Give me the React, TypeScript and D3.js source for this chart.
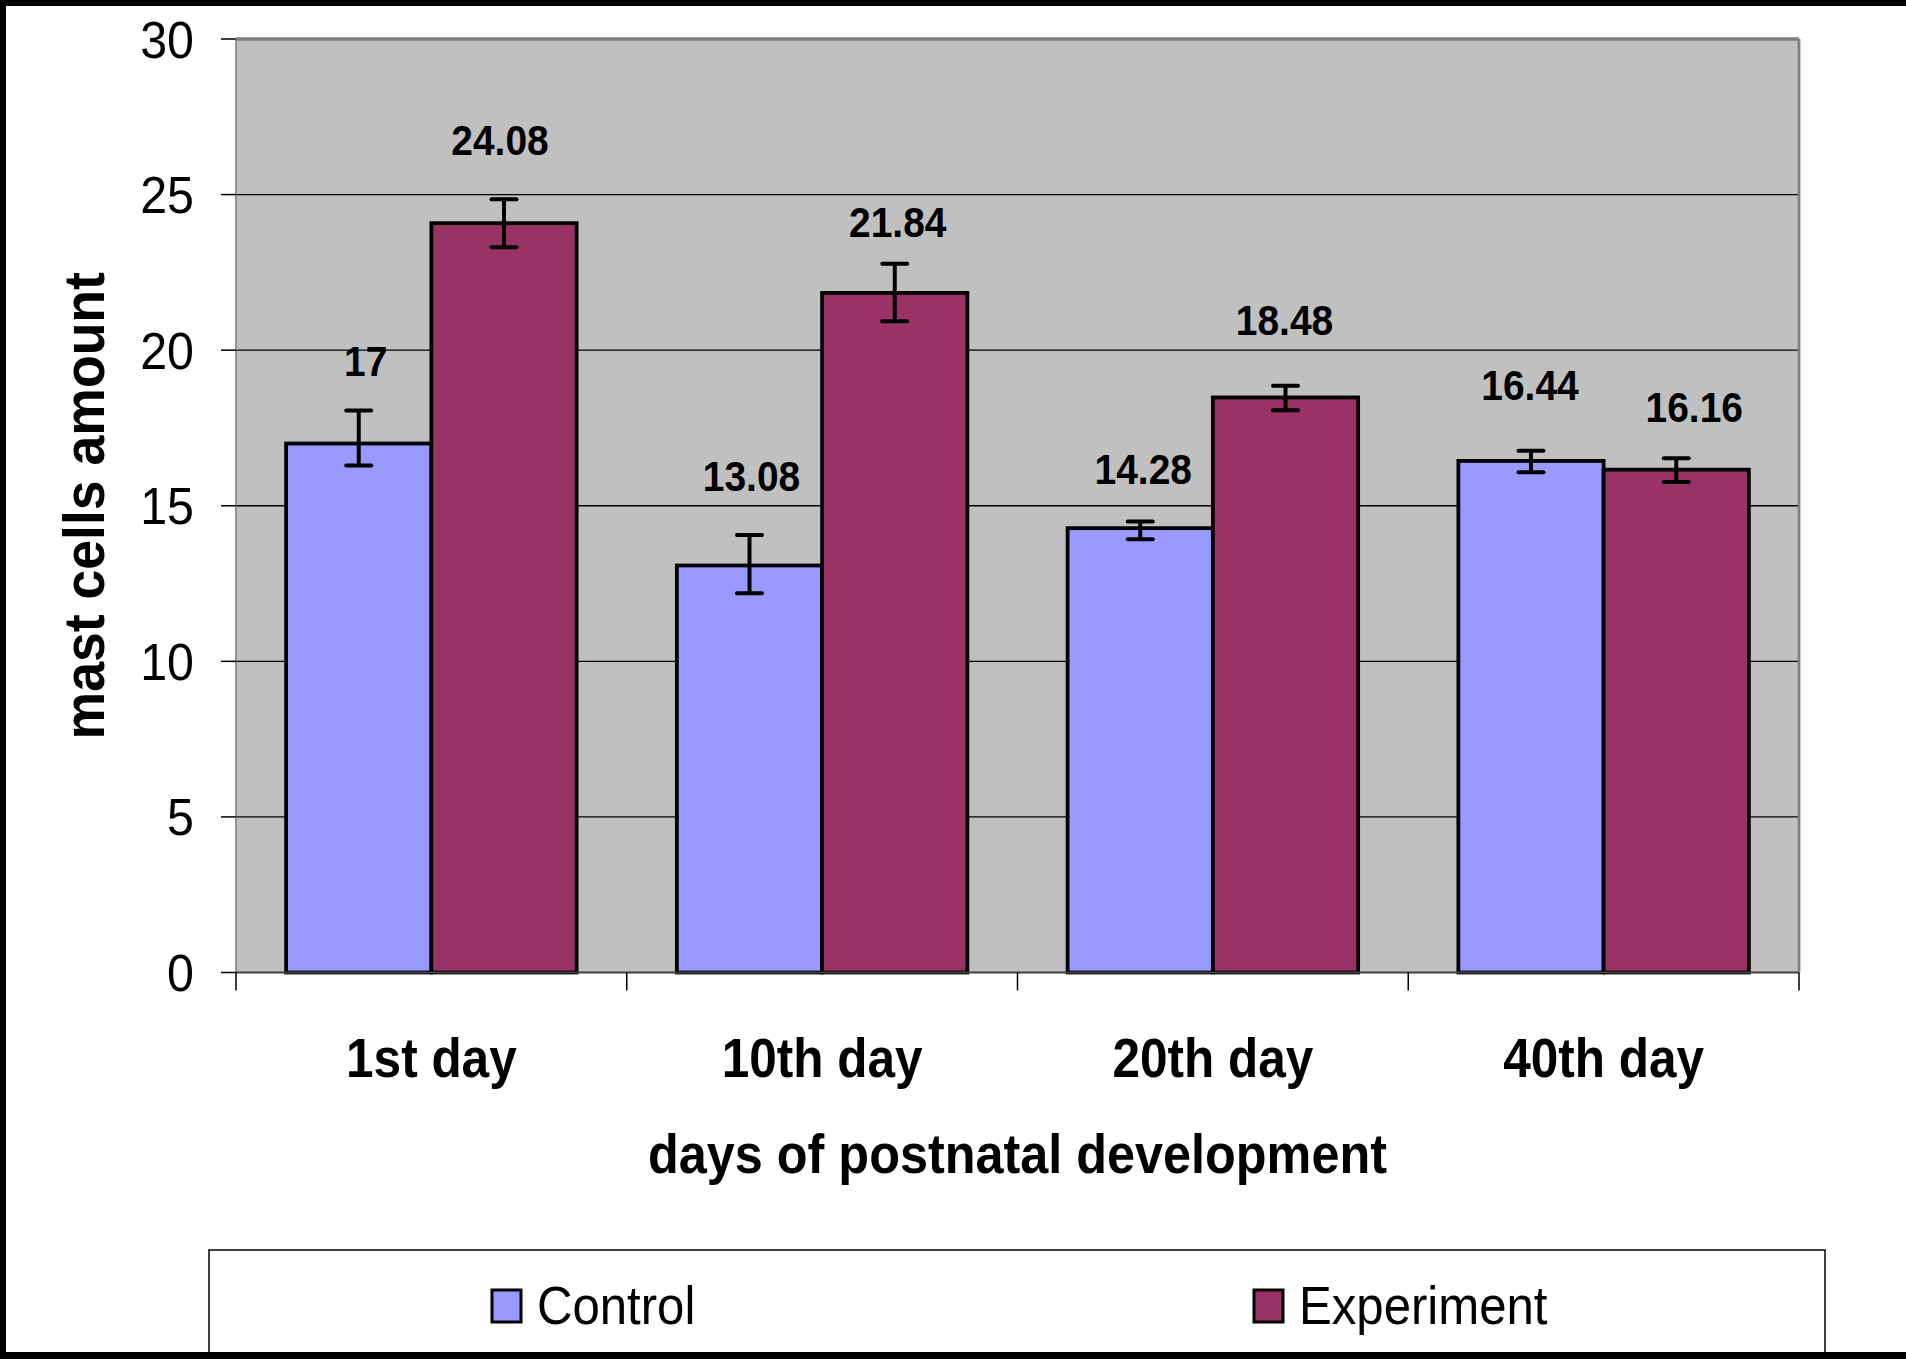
import React from 'react';
import * as d3 from 'd3';

const categories = ['1st day', '10th day', '20th day', '40th day'];
const seriesNames = ['Control', 'Experiment'];
const control = [17, 13.08, 14.28, 16.44];
const experiment = [24.08, 21.84, 18.48, 16.16];
const controlErrUp = [1.06, 0.98, 0.21, 0.33];
const controlErrDown = [0.71, 0.89, 0.36, 0.36];
const experimentErrUp = [0.77, 0.94, 0.38, 0.37];
const experimentErrDown = [0.77, 0.91, 0.41, 0.4];
const yTicks = [0, 5, 10, 15, 20, 25, 30];

// hand-placed value labels (px above bar top, px sideways), as in the original
const labelLift = [[68, 74, 44, 61], [68, 56, 62, 48]];
const labelShift = [[7, 2, 3, -1], [-4, 3, -1, 18]];

const W = 1906;
const H = 1359;
const plot = { left: 236, right: 1799, top: 39, bottom: 972.5 };
const colors = ['#9999FF', '#993366'];
const font = '"Liberation Sans", Arial, sans-serif';

const values = [control, experiment];
const errUp = [controlErrUp, experimentErrUp];
const errDown = [controlErrDown, experimentErrDown];

const App: React.FC = () => {
  const x0 = d3.scaleBand<string>().domain(categories).range([plot.left, plot.right]).padding(0);
  const x1 = d3.scaleBand<string>().domain(seriesNames).range([0, x0.bandwidth()])
    .paddingInner(0).paddingOuter(0.345);
  const y = d3.scaleLinear().domain([0, 30]).range([plot.bottom, plot.top]);
  const bw = x1.bandwidth();

  const bounds = [...categories.map(c => x0(c)!), plot.right];

  return (
    <svg width={W} height={H} style={{ position: 'absolute', left: 0, top: 0, background: '#fff' }}
      fontFamily={font}>
      <rect x={0} y={0} width={W} height={H} fill="#fff" />

      {/* plot area */}
      <rect x={plot.left} y={plot.top} width={plot.right - plot.left} height={plot.bottom - plot.top}
        fill="#C0C0C0" />
      {yTicks.filter(t => t > 0 && t < 30).map(t => (
        <line key={t} x1={plot.left} x2={plot.right} y1={y(t)} y2={y(t)} stroke="#000" strokeWidth={1.3} />
      ))}
      <line x1={plot.left} x2={plot.right} y1={plot.top} y2={plot.top} stroke="#808080" strokeWidth={3.3} />
      <line x1={plot.right} x2={plot.right} y1={plot.top} y2={plot.bottom} stroke="#808080" strokeWidth={2.8} />
      <line x1={plot.left} x2={plot.left} y1={plot.top} y2={plot.bottom} stroke="#808080" strokeWidth={1.6} />

      {/* y ticks */}
      {yTicks.map(t => (
        <g key={t}>
          <line x1={plot.left - 15} x2={plot.left} y1={y(t)} y2={y(t)} stroke="#000" strokeWidth={1.5} />
          <text transform={`translate(194,${y(t) + 18.5}) scale(0.93,1)`} textAnchor="end" fontSize={52}
            fill="#000">{t}</text>
        </g>
      ))}

      {/* bars */}
      {categories.map((c, i) => seriesNames.map((s, k) => {
        const bx = x0(c)! + x1(s)!;
        const v = values[k][i];
        return (
          <rect key={c + s} x={bx} y={y(v)} width={bw} height={y(0) - y(v)} fill={colors[k]}
            stroke="#000" strokeWidth={3.8} />
        );
      }))}

      {/* x axis */}
      <line x1={plot.left} x2={plot.right} y1={plot.bottom} y2={plot.bottom} stroke="#404040" strokeWidth={2} />
      {bounds.map((b, i) => (
        <line key={i} x1={b} x2={b} y1={plot.bottom} y2={plot.bottom + 18} stroke="#000" strokeWidth={1.5} />
      ))}

      {/* error bars */}
      {categories.map((c, i) => seriesNames.map((s, k) => {
        const cx = x0(c)! + x1(s)! + bw / 2;
        const v = values[k][i];
        const yt = y(v + errUp[k][i]);
        const yb = y(v - errDown[k][i]);
        return (
          <g key={'e' + c + s} stroke="#000" strokeWidth={4}>
            <line x1={cx} x2={cx} y1={yt} y2={yb} />
            <line x1={cx - 12.5} x2={cx + 12.5} y1={yt} y2={yt} strokeLinecap="round" />
            <line x1={cx - 12.5} x2={cx + 12.5} y1={yb} y2={yb} strokeLinecap="round" />
          </g>
        );
      }))}

      {/* value labels */}
      {categories.map((c, i) => seriesNames.map((s, k) => {
        const cx = x0(c)! + x1(s)! + bw / 2 + labelShift[k][i];
        const v = values[k][i];
        return (
          <text key={'l' + c + s} transform={`translate(${cx},${y(v) - labelLift[k][i]}) scale(0.95,1.05)`}
            textAnchor="middle" fontSize={41} fontWeight="bold" fill="#000">{String(v)}</text>
        );
      }))}

      {/* category labels */}
      {categories.map(c => (
        <text key={'c' + c} transform={`translate(${x0(c)! + x0.bandwidth() / 2},1077) scale(0.9,1)`}
          textAnchor="middle" fontSize={55} fontWeight="bold" fill="#000">{c}</text>
      ))}

      {/* axis titles */}
      <text transform={`translate(${(plot.left + plot.right) / 2},1173) scale(0.916,1)`} textAnchor="middle"
        fontSize={55} fontWeight="bold" fill="#000">days of postnatal development</text>
      <text transform={`translate(104,${(plot.top + plot.bottom) / 2}) rotate(-90) scale(0.94,1)`}
        textAnchor="middle" fontSize={57} fontWeight="bold" fill="#000">mast cells amount</text>

      {/* legend */}
      <rect x={209} y={1250} width={1616} height={120} fill="#fff" stroke="#000" strokeWidth={1.5} />
      {seriesNames.map((s, k) => {
        const lx = k === 0 ? 492 : 1254;
        return (
          <g key={'lg' + s}>
            <rect x={lx} y={1290} width={29} height={32} fill={colors[k]} stroke="#000" strokeWidth={3} />
            <text transform={`translate(${lx + 45},1324) scale(0.91,1)`} fontSize={54} fill="#000">{s}</text>
          </g>
        );
      })}

      {/* outer frame */}
      <rect x={0} y={0} width={W} height={6} fill="#000" />
      <rect x={0} y={0} width={6} height={H} fill="#000" />
      <rect x={0} y={1352} width={W} height={7} fill="#000" />
    </svg>
  );
};

export default App;
